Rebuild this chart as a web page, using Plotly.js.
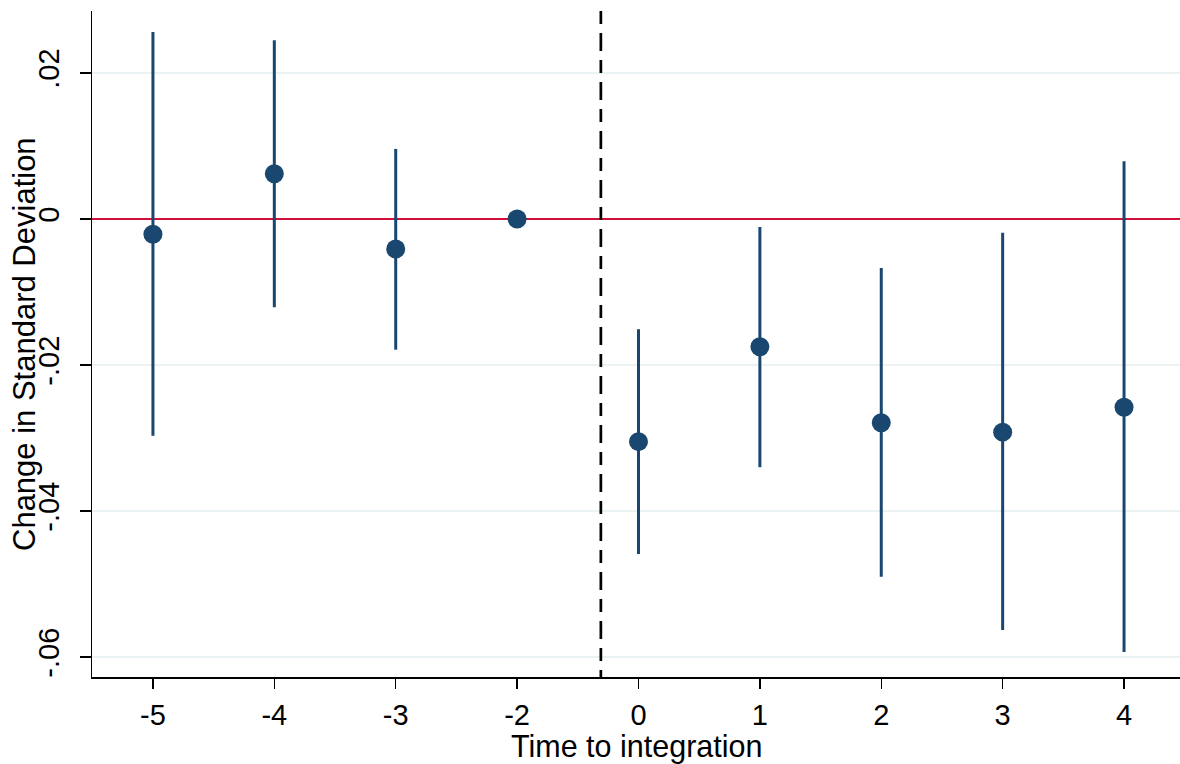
<!DOCTYPE html>
<html>
<head>
<meta charset="utf-8">
<script src="https://cdn.plot.ly/plotly-3.0.1.min.js"></script>
<style>html,body{margin:0;padding:0;background:#fff;}#chart{width:1180px;height:764px;}</style>
</head>
<body>
<div id="chart"></div>
<script>
const periods = ["-5", "-4", "-3", "-2", "0", "1", "2", "3", "4"];
const coef = [-0.0021, 0.0062, -0.0041, 0.0, -0.0305, -0.0175, -0.0279, -0.0292, -0.0258];
const ciUpper = [0.0256, 0.0245, 0.0096, 0.0, -0.0151, -0.0011, -0.0067, -0.0019, 0.0079];
const ciLower = [-0.0297, -0.0121, -0.0179, 0.0, -0.0459, -0.0340, -0.0490, -0.0563, -0.0593];
const yTicks = [-0.06, -0.04, -0.02, 0, 0.02];
const yTickText = ["-.06", "-.04", "-.02", "0", ".02"];
const eventLine = 3.69;

const xs = periods.map((p, i) => i);
const navy = "#1a476f";

const traces = [];
traces.push({
  x: xs.flatMap((x, i) => [x, x, null]),
  y: xs.flatMap((x, i) => [ciLower[i], ciUpper[i], null]),
  mode: "lines", type: "scatter",
  line: {color: navy, width: 3},
  hoverinfo: "skip", showlegend: false
});
traces.push({
  x: xs, y: coef, mode: "markers", type: "scatter",
  marker: {color: navy, size: 19},
  showlegend: false
});

const layout = {
  width: 1180, height: 764,
  margin: {l: 92, r: 0, t: 11, b: 87},
  paper_bgcolor: "#fff", plot_bgcolor: "#fff",
  font: {family: "Liberation Sans, Arial, sans-serif", color: "#000"},
  xaxis: {
    range: [-0.502, 8.461],
    tickvals: xs, ticktext: periods,
    ticks: "outside", ticklen: 10, tickwidth: 1.5, tickcolor: "#000",
    showline: true, linecolor: "#000", linewidth: 1.5,
    showgrid: false, zeroline: false,
    tickfont: {size: 29},
    ticklabelstandoff: 2,
    title: {text: ""}
  },
  yaxis: {
    range: [-0.06274, 0.02849],
    tickvals: yTicks, ticktext: yTickText,
    tickangle: -90,
    ticks: "outside", ticklen: 11, tickwidth: 1.5, tickcolor: "#000",
    showline: true, linecolor: "#000", linewidth: 1.5,
    showgrid: true, gridcolor: "#eaf2f3", gridwidth: 2,
    zeroline: true, zerolinecolor: "#d0103a", zerolinewidth: 2.5,
    tickfont: {size: 29},
    ticklabelstandoff: 9,
    title: {text: ""}
  },
  annotations: [
    {text: "Time to integration", xref: "paper", yref: "paper", x: 0.5, y: 0,
     xanchor: "center", yanchor: "middle", yshift: -69, showarrow: false,
     font: {size: 30.5}},
    {text: "Change in Standard Deviation", xref: "paper", yref: "paper", x: 0, y: 0.5,
     xanchor: "center", yanchor: "middle", xshift: -68, textangle: -90, showarrow: false,
     font: {size: 31}}
  ],
  shapes: [
    {type: "line", xref: "x", x0: eventLine, x1: eventLine, yref: "paper", y0: 1, y1: 0,
     line: {color: "#000", width: 2.7, dash: "13px,9px,18px,9px"}, layer: "above"}
  ]
};

Plotly.newPlot("chart", traces, layout, {displayModeBar: false, staticPlot: true});
</script>
</body>
</html>
